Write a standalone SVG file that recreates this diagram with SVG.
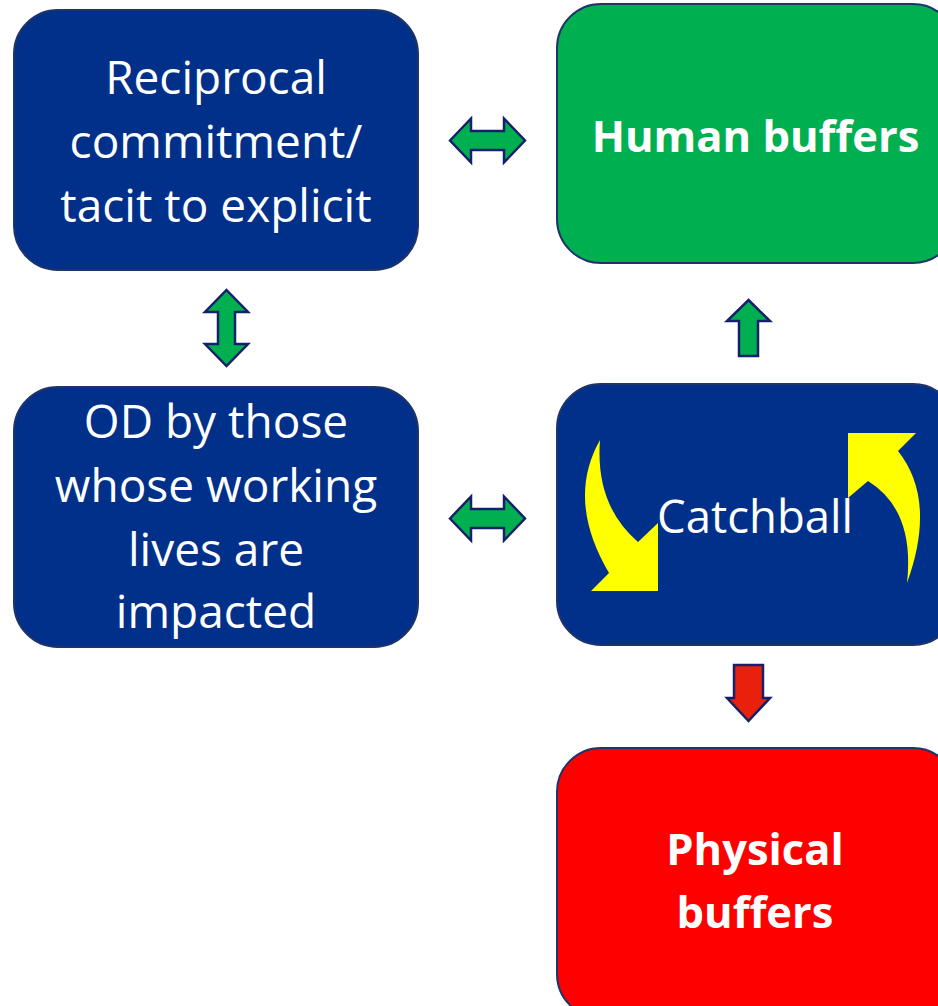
<svg xmlns="http://www.w3.org/2000/svg" width="938" height="1006" viewBox="0 0 938 1006">
<style>
.box{stroke:#1F3468;stroke-width:2}
.navy{fill:#00308A}
.t{fill:#FFFFFF;font-family:"Open Sans",Lato,sans-serif;text-anchor:middle}
.reg{font-size:46px}
.bold{font-weight:bold;font-size:43.5px}
.arr{stroke:#14206A;stroke-width:2.5;stroke-linejoin:miter}
.g{fill:#00B050}
.r{fill:#E8200C}
.y{fill:#FFFF00}
</style>
<rect width="938" height="1006" fill="#FFFFFF"/>
<g id="node-reciprocal">
<rect class="box navy" x="14" y="10" width="404" height="260" rx="44"/>
<text class="t reg" x="216" y="94">Reciprocal</text>
<text class="t reg" x="216" y="158">commitment/</text>
<text class="t reg" x="216" y="222">tacit to explicit</text>
</g>
<g id="node-human">
<rect class="box" fill="#00B050" x="557" y="4" width="400" height="259" rx="44"/>
<text class="t bold" x="755.5" y="152">Human buffers</text>
</g>
<g id="node-od">
<rect class="box navy" x="14" y="387" width="404" height="260" rx="44"/>
<text class="t reg" x="216" y="438">OD by those</text>
<text class="t reg" x="216" y="502">whose working</text>
<text class="t reg" x="216" y="566">lives are</text>
<text class="t reg" x="216" y="628">impacted</text>
</g>
<g id="node-catchball">
<rect class="box navy" x="557" y="384" width="400" height="261" rx="44"/>
<path class="y" d="M600,440 Q566,500 609,573 L591,591 L658,591 L658,523 L638,542 Q595,505 600,440 Z"/>
<path class="y" d="M907,583 Q937,500 898,451 L916,433 L848,433 L848,498 L868,481 Q915,510 907,583 Z"/>
<text class="t" style="font-size:45.5px" x="755" y="533">Catchball</text>
</g>
<g id="node-physical">
<rect class="box" fill="#FF0000" x="557" y="748" width="400" height="270" rx="44"/>
<text class="t bold" x="755" y="865">Physical</text>
<text class="t bold" x="755" y="928">buffers</text>
</g>
<g id="connectors">
<path class="arr g" d="M450,140.5 L471,118.5 L471,131 L504,131 L504,118.5 L525,140.5 L504,162.5 L504,150 L471,150 L471,162.5 Z"/>
<path class="arr g" d="M450,518.5 L471,496.5 L471,509 L504,509 L504,496.5 L525,518.5 L504,540.5 L504,528 L471,528 L471,540.5 Z"/>
<path class="arr g" d="M226.5,290 L248,312 L235,312 L235,344 L248,344 L226.5,366 L205,344 L218,344 L218,312 L205,312 Z"/>
<path class="arr g" d="M748.5,300 L770,321 L758,321 L758,356 L739,356 L739,321 L727,321 Z"/>
<path class="arr r" d="M734,665 L763,665 L763,698 L770,698 L748.5,721 L727,698 L734,698 Z"/>
</g>
</svg>
